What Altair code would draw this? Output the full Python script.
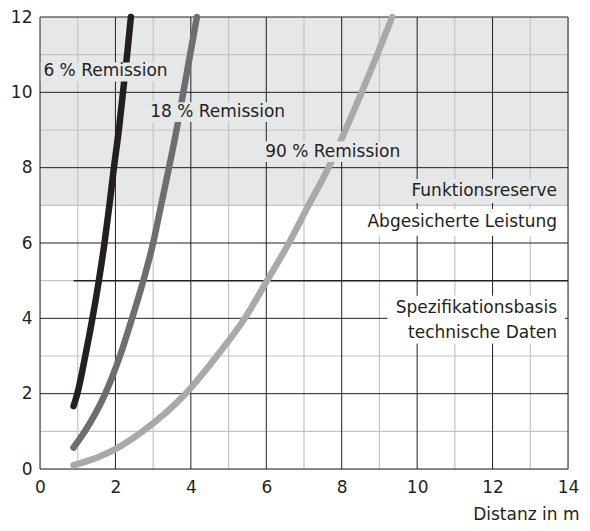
import altair as alt
import pandas as pd

# Curves (distance in m, value)
x_6 = [0.89, 0.99, 1.20, 1.39, 1.56, 1.71, 1.84, 1.96, 2.09, 2.20, 2.31, 2.41]
y_6 = [1.67, 2.0, 3.0, 4.0, 5.0, 6.0, 7.0, 8.0, 9.0, 10.0, 11.0, 12.0]
x_18 = [0.89, 1.19, 1.73, 2.12, 2.44, 2.74, 3.00, 3.21, 3.42, 3.62, 3.80, 3.98, 4.16]
y_18 = [0.57, 1.0, 2.0, 3.0, 4.0, 5.0, 6.0, 7.0, 8.0, 9.0, 10.0, 11.0, 12.0]
x_90 = [0.89, 1.5, 2.0, 2.72, 3.86, 4.69, 5.43, 6.02, 6.60, 7.12, 7.65, 8.10, 8.53, 8.94, 9.34]
y_90 = [0.1, 0.3, 0.53, 1.0, 2.0, 3.0, 4.0, 5.0, 6.0, 7.0, 8.0, 9.0, 10.0, 11.0, 12.0]

series_names = ["6 % Remission", "18 % Remission", "90 % Remission"]
series_colors = ["#231f20", "#6d6e71", "#a7a9ac"]

x_ticks = [0, 2, 4, 6, 8, 10, 12, 14]
y_ticks = [0, 2, 4, 6, 8, 10, 12]
x_minor = [1, 3, 5, 7, 9, 11, 13]
y_minor = [1, 3, 5, 7, 9, 11]

shade_y = [7, 12]
spec_line = {"x": 0.89, "x2": 14, "y": 5}

# Annotation labels
label_text = ["6 % Remission", "18 % Remission", "90 % Remission",
              "Funktionsreserve", "Abgesicherte Leistung",
              "Spezifikationsbasis", "technische Daten"]
label_x = [0.09, 2.92, 5.97, 13.71, 13.71, 13.71, 13.71]
label_y = [10.56, 9.47, 8.42, 7.39, 6.55, 4.28, 3.60]
label_align = ["left", "left", "left", "right", "right", "right", "right"]

# Label background boxes
box_x = [0.02, 2.85, 5.87, 9.68, 8.58, 9.21]
box_x2 = [3.59, 6.66, 9.84, 13.92, 13.92, 13.92]
box_y = [10.29, 9.21, 8.15, 7.06, 6.19, 3.33]
box_y2 = [10.79, 9.74, 8.70, 7.70, 6.90, 4.60]
box_fill = ["#e6e7e8", "#e6e7e8", "#e6e7e8", "#e6e7e8", "#ffffff", "#ffffff"]

FONT = "DejaVu Sans"
INK = "#231f20"

xs = alt.Scale(domain=[0, 14], nice=False)
ys = alt.Scale(domain=[0, 12], nice=False)

curves = pd.concat([
    pd.DataFrame({"x": x_6, "y": y_6, "s": series_names[0]}),
    pd.DataFrame({"x": x_18, "y": y_18, "s": series_names[1]}),
    pd.DataFrame({"x": x_90, "y": y_90, "s": series_names[2]}),
])

shade = alt.Chart(pd.DataFrame({"y": [shade_y[0]], "y2": [shade_y[1]], "x": [0], "x2": [14]})).mark_rect(
    color="#e6e7e8").encode(
    x=alt.X("x:Q", scale=xs, axis=alt.Axis(values=x_ticks, grid=False, ticks=False, domain=False,
                                          labelFont=FONT, labelFontSize=17, labelColor=INK,
                                          labelPadding=10, title="Distanz in m", titleFont=FONT,
                                          titleFontSize=17, titleFontWeight="normal", titleColor=INK,
                                          titleAnchor="end", titleAlign="right", titleX=539,
                                          titlePadding=11, labelFlush=False)),
    x2="x2:Q",
    y=alt.Y("y:Q", scale=ys, axis=alt.Axis(values=y_ticks, grid=False, ticks=False, domain=False,
                                          labelFont=FONT, labelFontSize=17, labelColor=INK,
                                          labelPadding=8, title=None, labelFlush=False)),
    y2="y2:Q",
)

vminor = alt.Chart(pd.DataFrame({"x": x_minor})).mark_rule(color="#c3c4c6", strokeWidth=1.2).encode(
    x=alt.X("x:Q", scale=xs))
hminor = alt.Chart(pd.DataFrame({"y": y_minor})).mark_rule(color="#c3c4c6", strokeWidth=1.2).encode(
    y=alt.Y("y:Q", scale=ys))
vmajor = alt.Chart(pd.DataFrame({"x": x_ticks})).mark_rule(color=INK, strokeWidth=1).encode(
    x=alt.X("x:Q", scale=xs))
hmajor = alt.Chart(pd.DataFrame({"y": y_ticks})).mark_rule(color=INK, strokeWidth=1).encode(
    y=alt.Y("y:Q", scale=ys))

specrule = alt.Chart(pd.DataFrame([spec_line])).mark_rule(color=INK, strokeWidth=1.5).encode(
    x=alt.X("x:Q", scale=xs), x2="x2:Q", y=alt.Y("y:Q", scale=ys))

lines = alt.Chart(curves).mark_line(strokeWidth=6.5, strokeCap="round", interpolate="monotone").encode(
    x=alt.X("x:Q", scale=xs),
    y=alt.Y("y:Q", scale=ys),
    color=alt.Color("s:N", scale=alt.Scale(domain=series_names, range=series_colors), legend=None),
    detail="s:N",
)

boxes = alt.Chart(pd.DataFrame({"x": box_x, "x2": box_x2, "y": box_y, "y2": box_y2, "f": box_fill})).mark_rect().encode(
    x=alt.X("x:Q", scale=xs), x2="x2:Q",
    y=alt.Y("y:Q", scale=ys), y2="y2:Q",
    fill=alt.Fill("f:N", scale=None),
)

lab = pd.DataFrame({"t": label_text, "x": label_x, "y": label_y, "a": label_align})
text_left = alt.Chart(lab[lab.a == "left"]).mark_text(
    align="left", baseline="middle", font=FONT, fontSize=17, color=INK).encode(
    x=alt.X("x:Q", scale=xs), y=alt.Y("y:Q", scale=ys), text="t:N")
text_right = alt.Chart(lab[lab.a == "right"]).mark_text(
    align="right", baseline="middle", font=FONT, fontSize=17, color=INK).encode(
    x=alt.X("x:Q", scale=xs), y=alt.Y("y:Q", scale=ys), text="t:N")

chart = alt.layer(shade, vminor, hminor, vmajor, hmajor, specrule, lines, boxes, text_left, text_right).properties(
    width=528, height=452,
    autosize=alt.AutoSizeParams(type="none"),
    padding={"left": 32, "top": 9, "right": 14, "bottom": 54},
).configure_view(stroke=None).configure(background="white")

chart.save("out.html", embed_options={"renderer": "svg", "actions": False})
